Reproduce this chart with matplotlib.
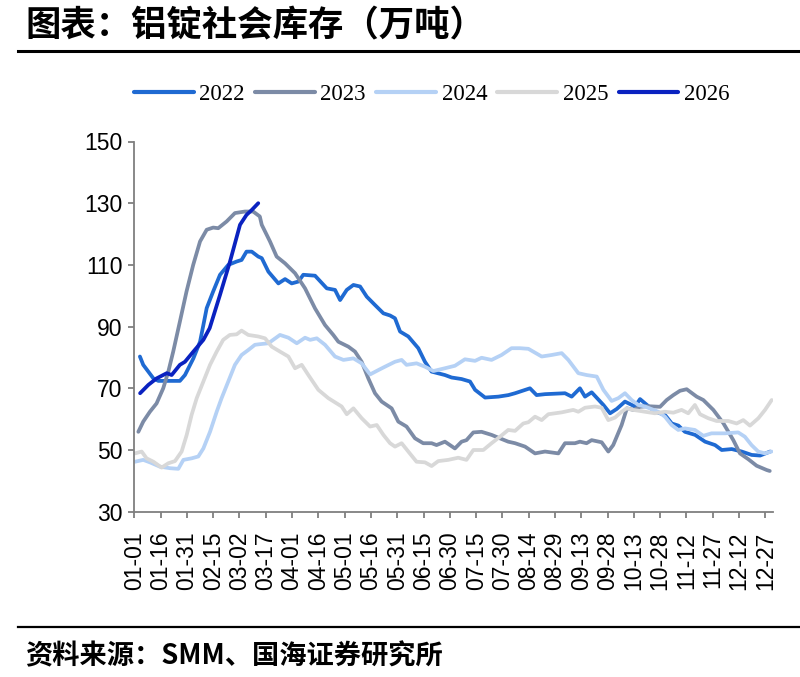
import matplotlib
matplotlib.use("Agg")
import matplotlib.pyplot as plt
from matplotlib.lines import Line2D

# ---------------- data (x = day of year, 0 = 01-01) ----------------
tick_days = [0, 15, 30, 45, 60, 75, 90, 105, 120, 135, 150, 165, 180, 195, 210,
             225, 240, 255, 270, 285, 300, 315, 330, 345, 360]
tick_labels = ["01-01", "01-16", "01-31", "02-15", "03-02", "03-17", "04-01", "04-16",
               "05-01", "05-16", "05-31", "06-15", "06-30", "07-15", "07-30", "08-14",
               "08-29", "09-13", "09-28", "10-13", "10-28", "11-12", "11-27", "12-12", "12-27"]
y_ticks = [30, 50, 70, 90, 110, 130, 150]

d22 = [3.2, 5.1, 8, 10.9, 13.7, 26, 28.9, 33.7, 37.5, 39.4, 41.3, 45, 48.9, 53.6, 58.4, 61.2,
       64, 67, 70.7, 72.7, 76.5, 82.2, 86, 89.8, 93.6, 96.4, 103.1, 109.8, 114.5, 117.4, 121.2,
       125, 128.8, 132.6, 137.3, 142.1, 145.9, 148.7, 151.6, 156.3, 162, 165.8, 169.6, 177.2,
       181, 186.7, 191.5, 194.4, 200.1, 207.7, 213.4, 217.2, 225.7, 229.5, 234.3, 245.7, 249.5,
       254.2, 257.1, 260.9, 267.6, 271.4, 275.2, 279.9, 285.6, 288.5, 291.4, 297, 302.7, 306.6,
       310.4, 314.1, 319.9, 325.6, 331.3, 335.1, 340.8, 346.5, 352.2, 357, 362.7]
v22 = [80.3, 77.6, 75.4, 73.2, 72.4, 72.4, 74.3, 79.7, 85.1, 90.5, 96.0, 101.4, 106.8, 110.0,
       111.1, 111.6, 114.3, 114.3, 112.7, 112.2, 107.8, 104.0, 105.4, 104.0, 104.6, 106.8, 106.5,
       102.4, 101.9, 98.6, 101.9, 103.5, 103.0, 99.7, 97.0, 94.3, 93.6, 92.7, 88.4, 86.8, 83.0,
       78.6, 75.4, 74.3, 73.5, 73.0, 72.2, 69.5, 67.0, 67.3, 67.8, 68.4, 70.0, 67.8, 68.1, 68.4,
       67.3, 70.0, 67.3, 68.7, 64.6, 61.9, 63.3, 65.7, 64.1, 66.5, 65.1, 62.4, 61.4, 58.6, 57.9,
       55.9, 54.9, 52.7, 51.6, 50.0, 50.3, 49.5, 48.4, 48.2, 49.5]

d23 = [2.3, 5.1, 8.9, 12.7, 16.5, 19.4, 22.2, 26, 29.8, 33.6, 37.5, 41.3, 45, 47.9, 52.7, 57.4,
       63.1, 67.8, 71.6, 72.7, 77.4, 81.2, 86, 91.7, 97.4, 103.1, 108.8, 113.5, 116.4, 122.1,
       125.9, 129.7, 133.5, 137.3, 141.1, 146.8, 150.6, 155.3, 160.1, 164.8, 169.6, 172.4, 177.2,
       182.9, 186.7, 189.5, 193.4, 198.1, 203.8, 208.5, 213.3, 217.2, 222.9, 228.6, 234.3, 241.9,
       245.7, 251.4, 254.2, 258, 260.9, 266.6, 270.4, 273.2, 278, 281, 284.7, 288.5, 293, 299.9,
       303.7, 307.5, 311.3, 315.1, 320.8, 324.6, 330.3, 336, 341.7, 345.5, 350.3, 355, 360.8, 362.5]
v23 = [55.9, 59.2, 62.4, 65.1, 70.0, 75.4, 81.9, 91.6, 101.4, 110.0, 117.6, 121.4, 122.1, 121.9,
       124.1, 126.8, 127.3, 127.3, 125.7, 123.0, 117.6, 112.7, 110.5, 107.3, 102.4, 95.9, 90.5,
       87.3, 85.1, 83.5, 81.9, 78.6, 73.2, 68.4, 65.7, 63.5, 59.2, 57.6, 53.8, 52.2, 52.2, 51.6,
       52.7, 50.5, 52.7, 53.2, 55.7, 55.9, 54.9, 53.8, 52.7, 52.2, 51.1, 48.9, 49.5, 48.9, 52.2,
       52.2, 52.7, 52.2, 53.2, 52.5, 49.5, 51.6, 58.1, 63.5, 63.0, 64.0, 64.2, 64.0, 66.2, 67.8,
       69.2, 69.7, 67.3, 66.2, 63.0, 58.7, 53.2, 48.9, 47.0, 44.9, 43.5, 43.2]

d24 = [0.4, 5.1, 8.9, 14.6, 20.4, 25.1, 28, 32.7, 36.5, 39.4, 43.2, 47, 49.8, 53.6, 57.4, 61.2,
       65, 68.8, 71.6, 76.5, 83.1, 87.9, 92.7, 97.4, 100.3, 104.1, 108.8, 114.5, 119.3, 125,
       129.7, 134.5, 139.2, 143, 148.7, 152.5, 155.3, 161, 165.8, 170.6, 177.2, 182.9, 188.6,
       194.4, 198.1, 203.8, 209.5, 215.2, 220, 224.8, 232.4, 238.1, 243.8, 247.6, 253.3, 258,
       263.8, 267.6, 272.3, 276.1, 279.9, 283.7, 287.5, 291.3, 298.9, 302.7, 306.5, 310.3, 314.1,
       319.8, 324.6, 329.3, 336.9, 344.5, 348.3, 352.1, 355.9, 359.7, 363.5]
v24 = [46.2, 46.8, 46.0, 44.6, 44.1, 43.9, 46.8, 47.3, 47.9, 50.5, 55.9, 62.4, 66.8, 72.2, 77.6,
       80.8, 82.4, 84.1, 84.3, 84.6, 87.3, 86.4, 84.6, 86.4, 85.7, 86.2, 84.1, 80.3, 79.2, 79.7,
       78.1, 74.5, 75.9, 77.0, 78.6, 79.2, 77.6, 78.1, 77.0, 75.6, 76.5, 77.3, 79.4, 78.9, 79.9,
       79.2, 80.8, 83.0, 83.0, 82.8, 80.3, 80.8, 81.4, 79.2, 74.9, 74.3, 73.8, 69.5, 65.9, 66.8,
       68.4, 66.2, 64.6, 64.1, 62.4, 60.8, 58.1, 56.5, 57.0, 56.5, 54.6, 55.4, 55.4, 55.7, 54.3,
       51.6, 49.5, 48.9, 49.5]

d25 = [0.4, 4.2, 7, 10.9, 15.6, 19.4, 23.2, 27, 29.9, 32.7, 35.6, 39.4, 43.2, 47, 50.7, 54.5,
       58.4, 61.2, 65, 70.7, 74.6, 78.4, 83.1, 87.9, 91.7, 95.5, 99.3, 105, 110.7, 118.3, 121.2,
       125, 129.7, 134.5, 138.3, 142.1, 145.9, 148.7, 152.5, 156.3, 161, 165.8, 169.6, 173.4,
       179.1, 184.8, 189.5, 193.4, 199.1, 203.8, 208.6, 213.3, 217.2, 221.9, 224.8, 228.6, 232.4,
       236.2, 243.8, 250.4, 253.3, 257.1, 262.8, 266.6, 270.4, 274.2, 278, 280.8, 284.6, 291.3,
       297, 302.7, 307.5, 312.2, 316, 319.8, 322.7, 327.4, 332.2, 338.9, 343.6, 347.4, 351.2,
       356, 359.8, 363.6]
v25 = [48.9, 49.5, 47.3, 46.2, 44.3, 45.7, 46.4, 49.5, 54.9, 61.4, 66.8, 72.2, 77.6, 81.9, 85.7,
       87.3, 87.5, 88.7, 87.3, 86.8, 86.2, 83.5, 81.9, 80.3, 76.5, 77.6, 74.3, 69.5, 66.8, 64.1,
       61.6, 63.5, 60.3, 57.6, 58.1, 54.9, 52.2, 51.1, 52.2, 49.5, 46.2, 46.0, 44.8, 46.4, 46.8,
       47.5, 46.8, 50.0, 50.0, 52.2, 54.3, 56.5, 56.2, 58.6, 59.0, 60.8, 59.7, 61.6, 62.2, 63.0,
       62.4, 63.7, 64.1, 63.7, 59.7, 60.5, 62.4, 63.5, 63.0, 62.4, 61.9, 62.4, 62.1, 63.0, 61.9,
       64.6, 61.6, 60.3, 59.4, 59.4, 58.6, 59.7, 57.9, 60.3, 63.0, 66.2]

d26 = [3.3, 8, 12.7, 18.5, 21.3, 26, 28.9, 33.7, 39.4, 43, 48.9, 54.6, 60.3, 64, 67, 70.7]
v26 = [68.4, 71.1, 73.2, 74.9, 74.3, 77.6, 78.6, 81.9, 85.7, 89.5, 100.3, 111.1, 123.0, 126.2,
       127.8, 130.0]

series_names = ["2022", "2023", "2024", "2025", "2026"]
series_x = [d22, d23, d24, d25, d26]
series_y = [v22, v23, v24, v25, v26]
colors = ["#1f6ad2", "#7c8ba6", "#b5d1f5", "#d8d8d8", "#0a22c0"]

title = "图表：铝锭社会库存（万吨）"
source = "资料来源：SMM、国海证券研究所"

# ---------------- figure ----------------
W, H = 800, 677
fig = plt.figure(figsize=(W / 100, H / 100), dpi=100)
left, right, top, bottom = 134.3, 773, 141.5, 511.7
ax = fig.add_axes([left / W, 1 - bottom / H, (right - left) / W, (bottom - top) / H])

for xs, ys, c, name in zip(series_x, series_y, colors, series_names):
    ax.plot(xs, ys, color=c, lw=2.7, label=name, solid_capstyle="round", solid_joinstyle="round")

ax.set_xlim(0, (right - left) / 1.753)
ax.set_ylim(30, 150)
ax.set_yticks(y_ticks)
ax.set_xticks(tick_days)
ax.set_xticklabels(tick_labels, rotation=90)

spine_c = "#7f7f7f"
for s in ["top", "right"]:
    ax.spines[s].set_visible(False)
for s in ["left", "bottom"]:
    ax.spines[s].set_color(spine_c)
    ax.spines[s].set_linewidth(1.3)
ax.tick_params(axis="both", direction="out", length=4.5, width=1.3, color=spine_c,
               labelsize=16.5, labelcolor="black")
ax.tick_params(axis="x", pad=10)
ax.tick_params(axis="y", pad=4)
for lab in ax.get_xticklabels() + ax.get_yticklabels():
    lab.set_family(["Liberation Sans", "DejaVu Sans"])

leg = fig.legend(loc="center left", bbox_to_anchor=(134 / W, 1 - 94 / H),
                 ncol=5, frameon=False, handlelength=2.6, handletextpad=0.25,
                 columnspacing=0.45, borderpad=0, borderaxespad=0,
                 prop={"family": ["Liberation Serif", "DejaVu Serif"], "size": 16.5})
for h in leg.get_lines():
    h.set_linewidth(3.0)

fig.text(25 / W, 1 - 26 / H, title, ha="left", va="center", fontsize=25.5,
         fontweight="heavy", family=["Noto Sans CJK SC", "DejaVu Sans"])
fig.add_artist(Line2D([18 / W, 1.0], [1 - 50.5 / H] * 2, color="black", lw=2.2))
fig.add_artist(Line2D([18 / W, 1.0], [1 - 627 / H] * 2, color="black", lw=1.6))
fig.text(25 / W, 1 - 656 / H, source, ha="left", va="center", fontsize=19.6,
         fontweight="heavy", family=["Noto Sans CJK SC", "DejaVu Sans"])

fig.savefig("out.png", dpi=100, facecolor="white")
